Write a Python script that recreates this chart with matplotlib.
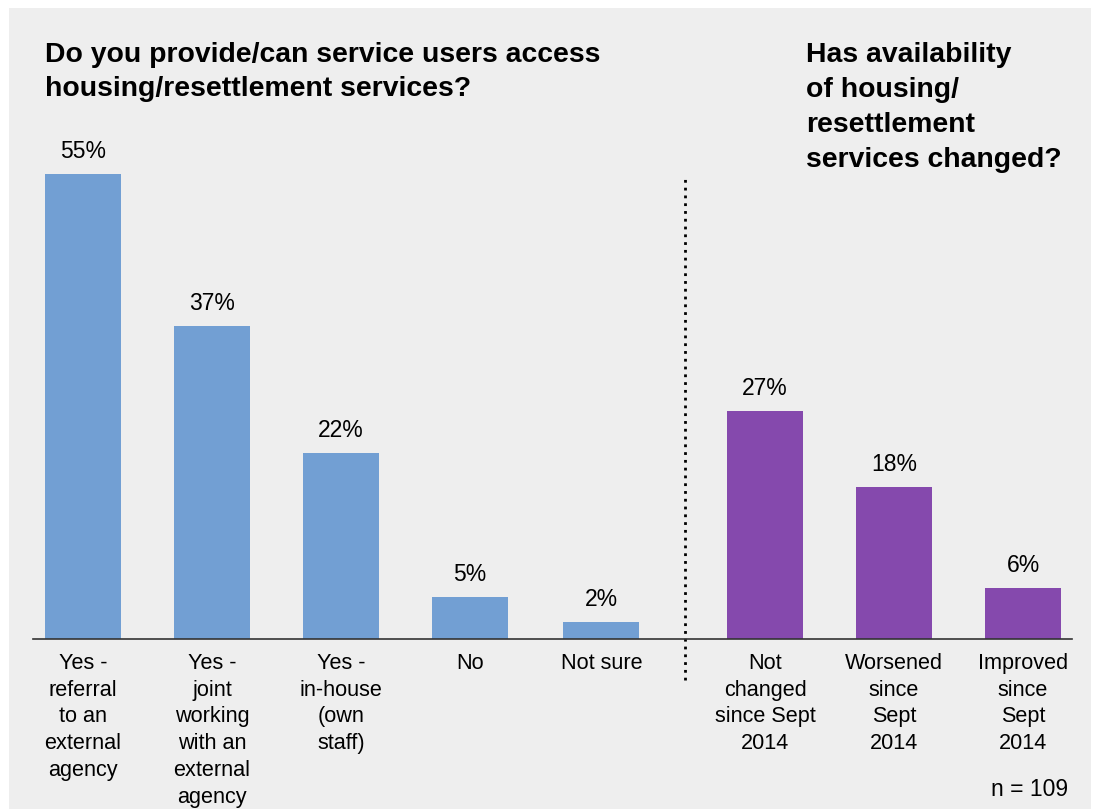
"""Housing/resettlement services: access vs change since Sept 2014."""
import matplotlib
matplotlib.use("Agg")
import matplotlib.pyplot as plt
import matplotlib.patches as mpatches
import numpy as np

plt.rcParams["font.family"] = ["Liberation Sans", "DejaVu Sans"]

ACCESS_LABELS = [
    "Yes -\nreferral\nto an\nexternal\nagency",
    "Yes -\njoint\nworking\nwith an\nexternal\nagency",
    "Yes -\nin-house\n(own\nstaff)",
    "No",
    "Not sure",
]
ACCESS_VALUES = [55, 37, 22, 5, 2]

CHANGE_LABELS = [
    "Not\nchanged\nsince Sept\n2014",
    "Worsened\nsince\nSept\n2014",
    "Improved\nsince\nSept\n2014",
]
CHANGE_VALUES = [27, 18, 6]

BLUE = "#729fd3"
PURPLE = "#8549ad"
BG = "#eeeeee"

W, H = 1096, 809
fig = plt.figure(figsize=(W / 100, H / 100), dpi=100)
fig.patch.set_facecolor("white")
fig.add_artist(mpatches.Rectangle((9 / W, 0), 1082 / W, 801 / H,
                                  transform=fig.transFigure, facecolor=BG,
                                  edgecolor="none", zorder=-10))

ax = fig.add_axes([33 / W, (H - 639) / H, (1072 - 33) / W, (639 - 132) / H])
ax.set_facecolor("none")

x_access = np.arange(len(ACCESS_VALUES))
x_access = x_access + np.array([0, 0, 0, 0, 0.02])
x_change = 5.29 + np.arange(len(CHANGE_VALUES))
bw = 0.59

ax.bar(x_access, ACCESS_VALUES, width=bw, color=BLUE)
ax.bar(x_change, CHANGE_VALUES, width=bw, color=PURPLE)

for xs, vals in ((x_access, ACCESS_VALUES), (x_change, CHANGE_VALUES)):
    for x, v in zip(xs, vals):
        ax.text(x, v + 1.9, f"{v}%", ha="center", va="baseline", fontsize=16.5)

ax.set_xlim(-0.388, 7.67)
ax.set_ylim(0, 60)
ax.set_xticks(list(x_access) + list(x_change))
ax.set_xticklabels(ACCESS_LABELS + CHANGE_LABELS, fontsize=15.6,
                   va="top", linespacing=1.36)
ax.tick_params(axis="x", length=0, pad=10)
ax.set_yticks([])
for side in ("top", "right", "left"):
    ax.spines[side].set_visible(False)
ax.spines["bottom"].set_linewidth(1.2)
ax.spines["bottom"].set_color("#333333")

# dotted divider between the two questions
ax.plot([4.67, 4.67], [-4.9, 54.5], color="black", linestyle=(0, (1, 1.8)),
        linewidth=2, clip_on=False)

fig.text(45 / W, 1 - 42 / H,
         "Do you provide/can service users access\nhousing/resettlement services?",
         fontsize=20.4, fontweight="bold", ha="left", va="top", linespacing=1.4)
fig.text(806 / W, 1 - 42 / H,
         "Has availability\nof housing/\nresettlement\nservices changed?",
         fontsize=20.4, fontweight="bold", ha="left", va="top", linespacing=1.45)
fig.text(1068 / W, 1 - 790 / H, "n = 109", fontsize=16.5, ha="right", va="center")

fig.savefig("out.png", dpi=100)
